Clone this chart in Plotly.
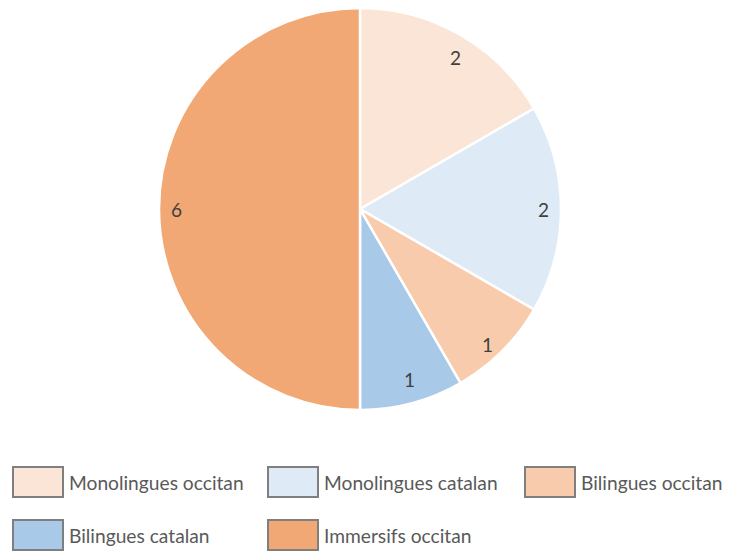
import math
import plotly.graph_objects as go

categories = ["Monolingues occitan", "Monolingues catalan", "Bilingues occitan",
              "Bilingues catalan", "Immersifs occitan"]
values = [2, 2, 1, 1, 6]
colors = ["#FBE5D6", "#DEEBF7", "#F8CBAD", "#A8C9E7", "#F2A874"]

OFF = 8  # default page body margin
W, H = 737 - OFF, 552 - OFF
cx, cy, R = 360 - OFF, 209 - OFF, 201  # pixel geometry of the pie (figure coords)

fig = go.Figure()
fig.add_trace(go.Pie(
    labels=categories, values=values, sort=False, direction="clockwise", rotation=0,
    marker=dict(colors=colors, line=dict(color="white", width=2.5)),
    textinfo="none", hoverinfo="label+value", showlegend=False,
    domain=dict(x=[(cx - R) / W, (cx + R) / W], y=[1 - (cy + R) / H, 1 - (cy - R) / H]),
))

annotations = []
total = sum(values)
cum = 0
for v in values:
    mid = (cum + v / 2) / total * 2 * math.pi
    cum += v
    r = 0.95 * R
    px = cx + r * math.sin(mid)
    py = cy - r * math.cos(mid)
    annotations.append(dict(x=px / W, y=1 - py / H, xref="paper", yref="paper",
                            text=str(v), showarrow=False,
                            font=dict(family="Lato, Carlito, sans-serif", size=19, color="#404040")))

# legend built as shapes + text
legend_pos = [(13, 467), (268, 467), (525, 467), (13, 520), (268, 520)]
shapes = []
for (lx, ly), name, col in zip(legend_pos, categories, colors):
    lx -= OFF
    ly -= OFF
    shapes.append(dict(type="rect", xref="paper", yref="paper",
                       x0=lx / W, x1=(lx + 50) / W, y0=1 - (ly + 30) / H, y1=1 - ly / H,
                       fillcolor=col, line=dict(color="#7F7F7F", width=2)))
    annotations.append(dict(x=(lx + 54) / W, y=1 - (ly + 15) / H, xref="paper", yref="paper",
                            xanchor="left", yanchor="middle", text=name, showarrow=False,
                            font=dict(family="Lato, Carlito, sans-serif", size=19.2, color="#595959")))

fig.update_layout(width=W, height=H, margin=dict(l=0, r=0, t=0, b=0),
                  paper_bgcolor="white", plot_bgcolor="white",
                  annotations=annotations, shapes=shapes)
fig.write_html("out.html")
